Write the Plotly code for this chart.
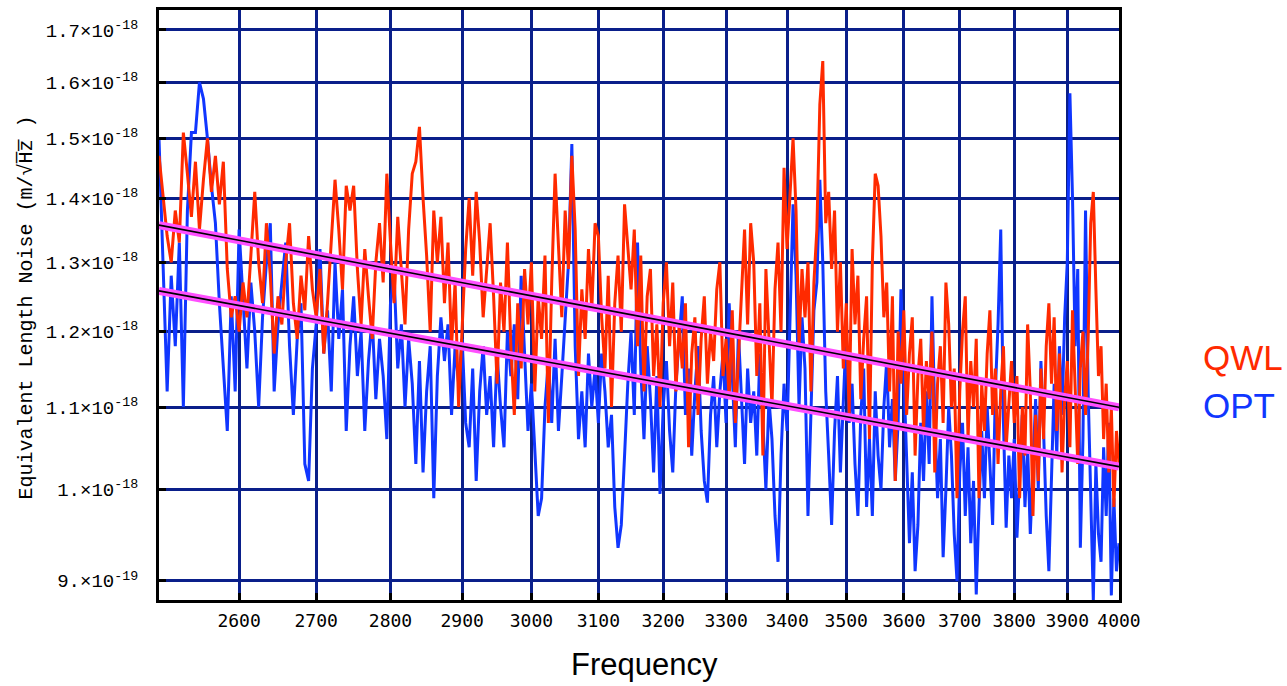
import plotly.graph_objects as go
import math

# Frequencies (Hz), 5 Hz steps
freq = list(range(2500, 4001, 5))

# QWL noise (units of 1e-18 m/sqrt(Hz))
qwl = [
    1.47,1.40,1.34,1.30,1.38,1.33,1.51,1.44,1.37,1.46,1.35,1.43,1.50,1.41,1.47,1.39,1.46,1.29,1.22,1.25,
    1.20,1.27,1.22,1.31,1.41,1.30,1.24,1.36,1.28,1.17,1.25,1.21,1.30,1.36,1.24,1.19,1.28,1.23,1.34,1.26,
    1.22,1.29,1.17,1.24,1.33,1.43,1.35,1.26,1.42,1.38,1.42,1.29,1.21,1.32,1.25,1.19,1.30,1.36,1.27,1.44,
    1.33,1.24,1.37,1.29,1.21,1.35,1.44,1.46,1.52,1.40,1.31,1.20,1.38,1.30,1.37,1.24,1.33,1.18,1.27,1.10,
    1.21,1.32,1.40,1.28,1.41,1.33,1.22,1.29,1.36,1.25,1.13,1.27,1.20,1.33,1.18,1.09,1.24,1.15,1.29,1.21,
    1.30,1.12,1.25,1.19,1.31,1.08,1.27,1.44,1.33,1.22,1.38,1.29,1.47,1.35,1.14,1.26,1.19,1.32,1.23,1.36,
    1.34,1.22,1.15,1.28,1.10,1.24,1.31,1.20,1.39,1.33,1.26,1.35,1.18,1.31,1.12,1.25,1.29,1.14,1.21,1.10,
    1.24,1.30,1.18,1.27,1.12,1.21,1.15,1.24,1.05,1.17,1.22,1.09,1.19,1.25,1.13,1.20,1.16,1.26,1.30,1.14,
    1.19,1.11,1.23,1.08,1.17,1.27,1.35,1.21,1.36,1.30,1.14,1.24,1.04,1.29,1.18,1.10,1.26,1.33,1.20,1.45,
    1.32,1.41,1.50,1.38,1.18,1.29,1.22,1.30,1.12,1.27,1.35,1.56,1.64,1.36,1.41,1.29,1.38,1.20,1.30,1.15,
    1.24,1.09,1.32,1.21,1.28,1.11,1.19,1.25,1.06,1.30,1.44,1.42,1.34,1.22,1.27,1.12,1.25,1.01,1.20,1.13,
    1.23,1.09,1.17,1.22,1.04,1.14,1.19,1.07,1.16,1.11,1.20,1.02,1.13,1.18,1.08,1.27,1.21,1.10,1.15,0.99,
    1.12,1.20,1.25,1.06,1.16,1.10,1.19,0.99,1.13,1.07,1.17,1.23,1.09,1.15,1.03,1.12,1.18,1.05,1.11,1.16,
    1.08,1.14,0.99,1.10,1.04,1.21,1.12,0.97,1.09,1.01,1.15,1.06,1.18,1.24,1.13,1.22,1.07,1.17,1.02,1.11,
    1.16,1.05,1.23,1.12,1.03,1.15,1.20,1.09,1.19,1.36,1.41,1.26,1.14,1.18,1.06,1.13,1.02,1.10,0.98,1.07,1.03,
]

# OPT noise (units of 1e-18 m/sqrt(Hz))
opt = [
    1.50,1.30,1.12,1.28,1.18,1.33,1.10,1.38,1.51,1.51,1.60,1.57,1.50,1.42,1.36,1.24,1.15,1.07,1.25,1.12,
    1.35,1.24,1.15,1.27,1.20,1.10,1.22,1.30,1.36,1.12,1.21,1.27,1.33,1.18,1.09,1.19,1.24,1.03,1.01,1.15,
    1.21,1.32,1.17,1.23,1.12,1.30,1.19,1.26,1.07,1.18,1.25,1.14,1.20,1.07,1.16,1.22,1.11,1.19,1.14,1.06,
    1.24,1.28,1.15,1.21,1.10,1.19,1.13,1.03,1.16,1.02,1.12,1.18,0.99,1.14,1.22,1.16,1.21,1.09,1.18,1.13,
    1.19,1.08,1.05,1.15,1.01,1.12,1.18,1.09,1.14,1.05,1.17,1.10,1.05,1.20,1.14,1.21,1.11,1.28,1.16,1.07,
    1.13,1.04,0.97,0.99,1.10,1.16,1.08,1.19,1.07,1.14,1.21,1.30,1.49,1.18,1.06,1.12,1.05,1.17,1.10,1.15,
    1.08,1.17,1.12,1.05,1.09,0.98,0.935,0.96,1.04,1.13,1.20,1.09,1.33,1.15,1.06,1.18,1.11,1.02,1.14,0.995,
    1.10,1.16,1.07,1.02,1.13,1.19,1.25,1.09,1.15,1.04,1.12,1.18,1.07,1.01,0.985,1.09,1.14,1.05,1.12,1.17,
    1.08,1.24,1.13,1.05,1.20,1.10,1.03,1.15,1.08,1.12,1.04,1.17,1.09,1.00,1.11,1.06,0.97,0.92,1.04,1.13,
    1.07,1.22,1.39,1.28,1.10,1.22,1.15,0.97,1.08,1.23,1.27,1.43,1.30,1.12,1.04,0.96,1.07,1.14,1.02,1.10,
    1.20,1.08,1.13,1.03,0.97,1.09,1.15,0.98,1.06,0.97,1.12,1.04,1.00,1.10,1.16,1.05,1.11,1.01,1.08,1.26,
    1.14,1.05,0.94,1.02,0.91,0.96,1.08,1.01,1.12,1.03,1.25,1.09,0.99,1.06,0.925,1.00,1.10,1.04,0.95,0.90,
    1.02,1.08,0.97,1.05,0.94,1.01,0.886,0.98,1.07,0.99,1.10,1.03,0.96,1.12,1.21,1.35,1.08,0.957,1.04,0.99,
    1.06,0.946,1.02,1.09,0.98,1.05,0.95,1.03,1.11,1.00,1.16,1.07,0.97,0.91,1.01,1.13,1.04,1.18,1.09,1.22,
    1.30,1.58,1.40,1.18,1.29,0.935,1.06,1.38,1.12,0.98,0.88,1.03,0.95,0.92,1.05,0.97,1.08,0.885,0.99,0.91,0.94,
]

# Power-law fit lines (end points)
fit_freq = [2500, 4000]
fit_qwl = [1.357, 1.0996]
fit_opt = [1.2578, 1.0268]

x_ticks = [2600, 2700, 2800, 2900, 3000, 3100, 3200, 3300, 3400, 3500, 3600, 3700, 3800, 3900, 4000]
y_ticks = [0.9, 1.0, 1.1, 1.2, 1.3, 1.4, 1.5, 1.6, 1.7]
y_tick_text = ["9.×10<sup>-19</sup>", "1.×10<sup>-18</sup>", "1.1×10<sup>-18</sup>", "1.2×10<sup>-18</sup>",
               "1.3×10<sup>-18</sup>", "1.4×10<sup>-18</sup>", "1.5×10<sup>-18</sup>", "1.6×10<sup>-18</sup>",
               "1.7×10<sup>-18</sup>"]

S = 1e-18
RED = "#ff2a00"
BLUE = "#1036ff"
MAG = "#ff50ff"
GRID = "#0a1f8a"

fig = go.Figure()
fig.add_trace(go.Scatter(x=freq, y=[v * S for v in opt], mode="lines",
                         line=dict(color=BLUE, width=3), name="OPT"))
fig.add_trace(go.Scatter(x=freq, y=[v * S for v in qwl], mode="lines",
                         line=dict(color=RED, width=3), name="QWL"))
for fv in (fit_qwl, fit_opt):
    fig.add_trace(go.Scatter(x=fit_freq, y=[v * S for v in fv], mode="lines",
                             line=dict(color=MAG, width=8)))
    fig.add_trace(go.Scatter(x=fit_freq, y=[v * S for v in fv], mode="lines",
                             line=dict(color="black", width=1.6)))

mono = "Liberation Mono, Courier New, monospace"

fig.update_layout(
    width=1287, height=686, autosize=False,
    margin=dict(l=159, r=168, t=7, b=86),
    paper_bgcolor="white", plot_bgcolor="white",
    showlegend=False,
    xaxis=dict(type="log", range=[math.log10(2500), math.log10(4000)],
               tickvals=x_ticks, ticktext=[str(t) for t in x_ticks],
               showgrid=True, gridcolor=GRID, gridwidth=3,
               showline=True, linecolor="black", linewidth=3, mirror=True,
               ticks="inside", ticklen=7, tickwidth=3, tickcolor="black",
               tickfont=dict(family="DejaVu Sans Mono, monospace", size=18, color="black"),
               ticklabelstandoff=2, zeroline=False),
    yaxis=dict(type="log", range=[math.log10(0.8803e-18), math.log10(1.7395e-18)],
               tickvals=[v * S for v in y_ticks], ticktext=y_tick_text,
               showgrid=True, gridcolor=GRID, gridwidth=3,
               showline=True, linecolor="black", linewidth=3, mirror=True,
               ticks="inside", ticklen=7, tickwidth=3, tickcolor="black",
               tickfont=dict(family=mono, size=19, color="black"),
               ticklabelstandoff=14, zeroline=False),
    annotations=[
        dict(text="Equivalent Length Noise (m/√H\u0305z\u0305 )", textangle=-90,
             xref="paper", yref="paper", x=(26 - 159) / 960, y=(600 - 306) / 593,
             xanchor="center", yanchor="middle", showarrow=False,
             font=dict(family=mono, size=20, color="black")),
        dict(text="Frequency", xref="paper", yref="paper",
             x=(644 - 159) / 960, y=(600 - 665) / 593, xanchor="center", yanchor="middle",
             showarrow=False, font=dict(family="Liberation Sans, Arial, sans-serif", size=31, color="black")),
        dict(text="QWL", xref="paper", yref="paper",
             x=(1201 - 159) / 960, y=(600 - 356) / 593, xanchor="left", yanchor="middle",
             showarrow=False, font=dict(family="Liberation Sans, Arial, sans-serif", size=35, color=RED)),
        dict(text="OPT", xref="paper", yref="paper",
             x=(1201 - 159) / 960, y=(600 - 405) / 593, xanchor="left", yanchor="middle",
             showarrow=False, font=dict(family="Liberation Sans, Arial, sans-serif", size=35, color=BLUE)),
    ],
)

fig.write_html("out.html")
